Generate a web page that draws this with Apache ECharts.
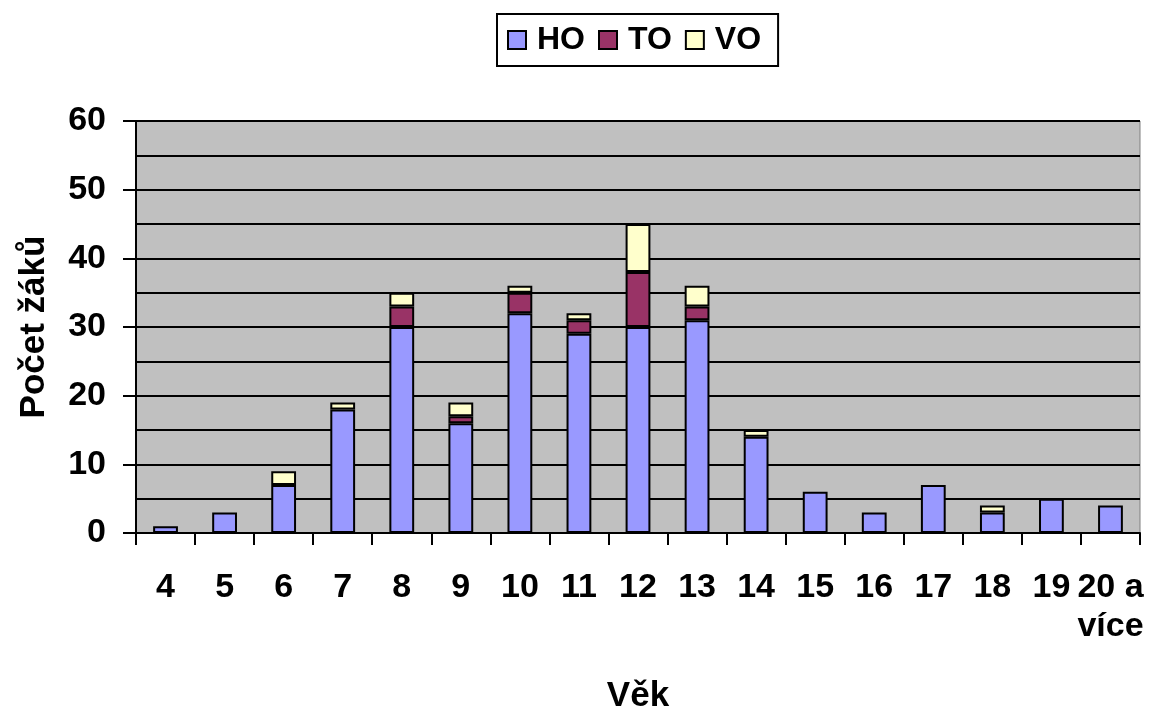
<!DOCTYPE html>
<html>
<head>
<meta charset="utf-8">
<script src="https://cdn.jsdelivr.net/npm/echarts@6/dist/echarts.min.js"></script>
<style>
html,body{margin:0;padding:0;background:#fff;}
#main{width:1151px;height:713px;}
</style>
</head>
<body>
<div id="main"></div>
<script>
// vek zaku
var categories = ['4','5','6','7','8','9','10','11','12','13','14','15','16','17','18','19','20 a\nvíce'];
var hoData = [1,3,7,18,30,16,32,29,30,31,14,6,3,7,3,5,4];
var toData = [0,0,0,0,3,1,3,2,8,2,0,0,0,0,0,0,0];
var voData = [0,0,2,1,2,2,1,1,7,3,1,0,0,0,1,0,0];
var yTicks = [0,10,20,30,40,50,60];

var font = 'Arial, "Liberation Sans", sans-serif';

function noZero(arr) {
    return arr.map(function (v) { return v === 0 ? '-' : v; });
}

function barSeries(name, data, color) {
    return {
        name: name,
        type: 'bar',
        stack: 'zaci',
        barWidth: '42%',
        data: noZero(data),
        itemStyle: {color: color, borderColor: '#000', borderWidth: 2}
    };
}

var myChart = echarts.init(document.getElementById('main'));
var option = {
    animation: false,
    textStyle: {fontFamily: font},
    legend: {
        top: 14,
        left: 497,
        data: ['HO','TO','VO'],
        icon: 'rect',
        itemWidth: 18,
        itemHeight: 18,
        itemGap: 13,
        borderColor: '#000',
        borderWidth: 2,
        padding: [10, 17, 10, 10],
        textStyle: {fontSize: 32, fontWeight: 'bold', color: '#000', fontFamily: font, padding: [0, 0, 0, 6]}
    },
    grid: {
        left: 136,
        right: 11,
        top: 121,
        bottom: 180,
        outerBoundsMode: 'none',
        show: true,
        backgroundColor: '#C0C0C0',
        borderColor: '#808080',
        borderWidth: 1
    },
    xAxis: {
        type: 'category',
        data: categories,
        name: 'Věk',
        nameLocation: 'middle',
        nameGap: 146,
        nameTextStyle: {fontSize: 35, fontWeight: 'bold', color: '#000', fontFamily: font},
        axisLine: {lineStyle: {color: '#000', width: 2}},
        axisTick: {show: true, length: 12, lineStyle: {color: '#000', width: 2}},
        axisLabel: {
            interval: 0,
            margin: 35,
            fontSize: 34,
            fontWeight: 'bold',
            color: '#000',
            lineHeight: 39,
            fontFamily: font
        }
    },
    yAxis: {
        type: 'value',
        min: yTicks[0],
        max: yTicks[yTicks.length - 1],
        interval: 10,
        name: 'Počet žáků',
        nameLocation: 'middle',
        nameGap: 84,
        nameTextStyle: {fontSize: 35, fontWeight: 'bold', color: '#000', fontFamily: font},
        axisLine: {show: true, lineStyle: {color: '#000', width: 2}},
        axisTick: {show: true, length: 13, lineStyle: {color: '#000', width: 2}},
        axisLabel: {margin: 30, fontSize: 34, fontWeight: 'bold', color: '#000', fontFamily: font},
        splitLine: {show: true, lineStyle: {color: '#000', width: 2}},
        minorTick: {show: false, splitNumber: 2},
        minorSplitLine: {show: true, lineStyle: {color: '#000', width: 2}}
    },
    series: [
        barSeries('HO', hoData, '#9999FF'),
        barSeries('TO', toData, '#993366'),
        barSeries('VO', voData, '#FFFFCC')
    ]
};
myChart.setOption(option);
</script>
</body>
</html>
